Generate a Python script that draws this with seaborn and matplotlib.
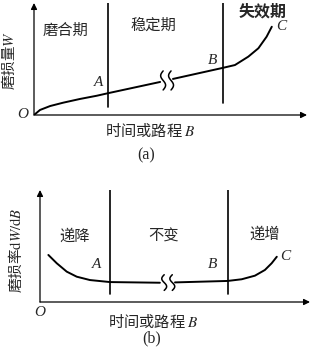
import numpy as np
import pandas as pd
import matplotlib
matplotlib.use("Agg")
import matplotlib.pyplot as plt
import seaborn as sns

# ---------------- data ----------------
# (a) wear amount W vs time/distance
wear_t = [0.00, 0.22, 0.59, 1.07, 1.68, 2.30, 2.70, 4.62]
wear_w = [0.00, 0.45, 0.80, 1.10, 1.43, 1.72, 1.94, 2.95]
wear_t2 = [5.09, 6.92, 7.36, 7.85, 8.22, 8.52, 8.71]
wear_w2 = [3.22, 4.21, 4.46, 5.21, 5.96, 6.99, 7.88]
a_bounds = [2.71, 6.92]          # A, B boundaries
a_vline_bottom = [0.7, 1.07]
a_break = [4.73, 5.02]
a_stage_labels = ["磨合期", "稳定期", "失效期"]

# (b) wear rate dW/dB vs time/distance
rate_t = [0.31, 0.62, 0.99, 1.36, 1.85, 2.47, 2.59, 4.44]
rate_r = [4.20, 3.46, 2.71, 2.26, 1.96, 1.81, 1.78, 1.72]
rate_t2 = [5.00, 6.95, 7.47, 7.96, 8.33, 8.58, 8.77]
rate_r2 = [1.75, 1.88, 2.03, 2.35, 2.86, 3.46, 4.04]
b_bounds = [2.59, 6.95]
b_break = [4.60, 4.90]
b_stage_labels = ["递降", "不变", "递增"]

xlabel = "时间或路程"
ylabel_a = "磨损量"
ylabel_b = "磨损率"

# ---------------- style ----------------
sns.set_theme(style="white")
plt.rcParams['font.family'] = ['Noto Sans CJK SC', 'DejaVu Sans']
plt.rcParams['mathtext.fontset'] = 'stix'

W, H = 313, 353
fig = plt.figure(figsize=(W / 100, H / 100), dpi=100)

def px_axes(l, t, r, b):
    return fig.add_axes([l / W, 1 - b / H, (r - l) / W, (b - t) / H])

cjk = 'Noto Sans CJK SC'
serif = 'Liberation Serif'
lw = 1.4

def setup(ax):
    ax.set_xlim(0, 10)
    ax.set_ylim(0, 10)
    ax.axis('off')
    ax.annotate("", xy=(1.0, 0), xytext=(0, 0), xycoords='axes fraction',
                arrowprops=dict(arrowstyle="-|>", color='black', lw=0.9,
                                mutation_scale=9, shrinkA=0, shrinkB=0))
    ax.annotate("", xy=(0, 1.0), xytext=(0, 0), xycoords='axes fraction',
                arrowprops=dict(arrowstyle="-|>", color='black', lw=0.9,
                                mutation_scale=9, shrinkA=0, shrinkB=0))

def squiggle(ax, cx, cy, h):
    s = np.linspace(-1, 1, 40)
    ax.plot(cx - 0.09 * np.sin(np.pi * s), cy + h * s, color='black', lw=1.1)

def label(x, y, s, **kw):
    fig.text(x / W, 1 - y / H, s, ha='center', va='center', **kw)

# ---- (a) ----
ax1 = px_axes(34, 3, 307, 115)
setup(ax1)
df1 = pd.DataFrame({"t": wear_t, "w": wear_w})
df2 = pd.DataFrame({"t": wear_t2, "w": wear_w2})
sns.lineplot(data=df1, x="t", y="w", ax=ax1, color='black', lw=lw, sort=False)
sns.lineplot(data=df2, x="t", y="w", ax=ax1, color='black', lw=lw, sort=False)
for xb, yb in zip(a_bounds, a_vline_bottom):
    ax1.plot([xb, xb], [yb, 10], color='black', lw=1.2)
mid = (wear_w[-1] + wear_w2[0]) / 2
for xb in a_break:
    squiggle(ax1, xb, mid, 0.85)
ax1.set_xlim(0, 10); ax1.set_ylim(0, 10)

label(65, 30, a_stage_labels[0], fontsize=11, family=cjk)
label(153, 25, a_stage_labels[1], fontsize=11, family=cjk)
label(263, 11, a_stage_labels[2], fontsize=11.5, family=cjk, weight='bold')
label(99, 82, "A", fontsize=11, family=serif, style='italic')
label(213, 60, "B", fontsize=11, family=serif, style='italic')
label(281, 27, "C", fontsize=11, family=serif, style='italic')
label(23, 115, "O", fontsize=11, family=serif, style='italic')
label(8, 60, ylabel_a + r"$W$", fontsize=10.5, rotation=90, family=[cjk, 'DejaVu Serif'])
label(150, 131, xlabel + " " + r"$B$", fontsize=11, family=[cjk, 'DejaVu Serif'])
label(146, 155, "(a)", fontsize=11.5, family=serif)

# ---- (b) ----
ax2 = px_axes(40, 190, 310, 302)
setup(ax2)
df3 = pd.DataFrame({"t": rate_t, "r": rate_r})
df4 = pd.DataFrame({"t": rate_t2, "r": rate_r2})
sns.lineplot(data=df3, x="t", y="r", ax=ax2, color='black', lw=lw, sort=False)
sns.lineplot(data=df4, x="t", y="r", ax=ax2, color='black', lw=lw, sort=False)
for xb in b_bounds:
    ax2.plot([xb, xb], [0.7, 10], color='black', lw=1.2)
mid = (rate_r[-1] + rate_r2[0]) / 2
for xb in b_break:
    squiggle(ax2, xb, mid, 0.7)
ax2.set_xlim(0, 10); ax2.set_ylim(0, 10)

label(75, 236, b_stage_labels[0], fontsize=11, family=cjk)
label(164, 236, b_stage_labels[1], fontsize=11, family=cjk)
label(265, 234, b_stage_labels[2], fontsize=11, family=cjk)
label(97, 265, "A", fontsize=11, family=serif, style='italic')
label(213, 265, "B", fontsize=11, family=serif, style='italic')
label(285, 256, "C", fontsize=11, family=serif, style='italic')
label(40, 313, "O", fontsize=11, family=serif, style='italic')
label(15, 250, ylabel_b + r"$\mathrm{d}W/\mathrm{d}B$", fontsize=10.5, rotation=90,
      family=[cjk, 'DejaVu Serif'])
label(153, 322, xlabel + " " + r"$B$", fontsize=11, family=[cjk, 'DejaVu Serif'])
label(152, 338, "(b)", fontsize=11.5, family=serif)

fig.savefig("out.png", dpi=100, facecolor='white')
